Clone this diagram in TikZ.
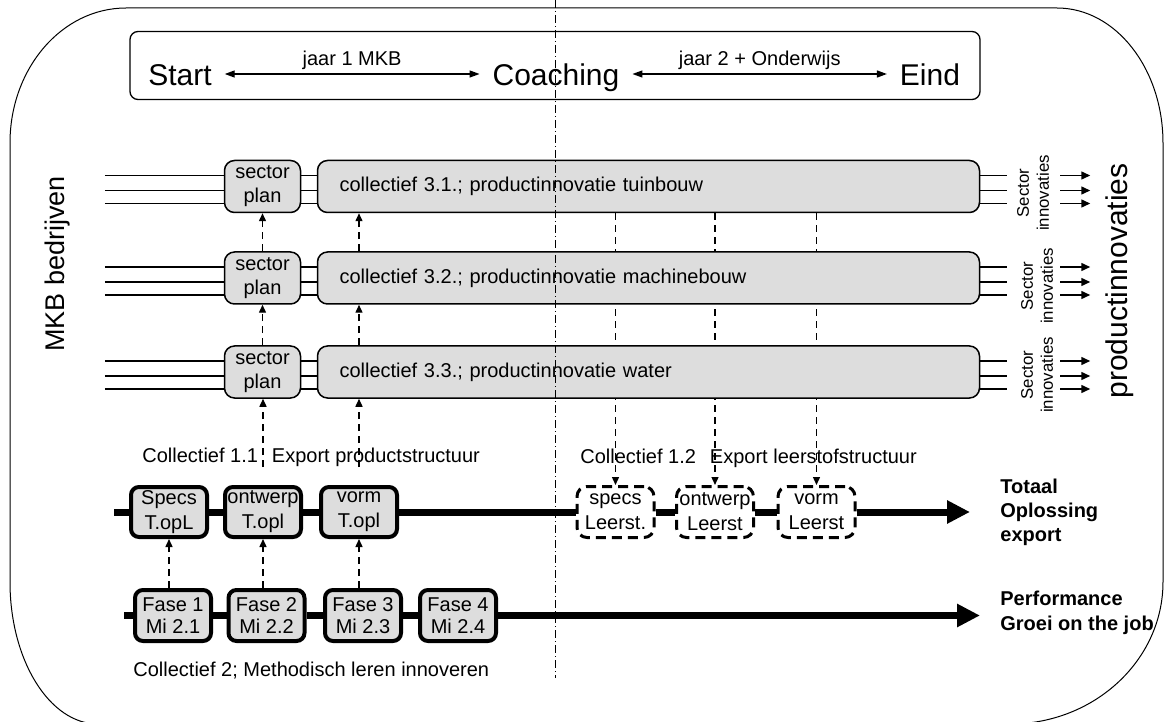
\documentclass[tikz,border=0pt]{standalone}
\usepackage{fontspec}
\setmainfont{Liberation Sans}
\usepackage{tikz}
\usetikzlibrary{arrows.meta,calc,backgrounds}

\definecolor{boxgray}{HTML}{DDDDDD}
\newcommand{\fsz}[2]{\fontsize{#1}{#2}\selectfont}

\begin{document}
\begin{tikzpicture}[x=0.5pt, y=-0.5pt,
		secbox/.style={draw, line width=0.75pt, rounded corners=5pt, fill=boxgray, minimum width=38pt, minimum height=26pt, inner sep=0pt, align=center, font=\fsz{10pt}{12pt}},
		colbox/.style={draw, line width=0.75pt, rounded corners=5pt, fill=boxgray, minimum height=26pt, text width=309pt, inner xsep=11pt, inner ysep=0pt, align=left, font=\fsz{10pt}{12pt}},
		tbox/.style={draw, line width=2pt, rounded corners=4pt, fill=boxgray, minimum width=38pt, minimum height=25pt, inner sep=0pt, align=center, font=\fsz{10pt}{12.5pt}},
		fbox/.style={tbox, minimum height=25.5pt, font=\fsz{10pt}{11pt}},
		lbox/.style={draw, line width=1.5pt, dash pattern=on 5pt off 3pt, rounded corners=5pt, fill=white, minimum width=38.5pt, minimum height=25.5pt, inner sep=0pt, align=center, font=\fsz{10pt}{12.5pt}},
		stub/.style={line width=0.75pt},
		stubarrow/.style={line width=0.75pt, -{Triangle[length=4.5pt, width=4pt]}},
		dasharrow/.style={line width=0.7pt, dash pattern=on 3.5pt off 2.5pt, -{Triangle[length=4pt, width=3.5pt]}},
		thickline/.style={line width=3.5pt},
		thickarrow/.style={line width=3.5pt, -{Triangle[length=11.5pt, width=11pt]}},
		period/.style={line width=0.65pt, {Triangle[length=5pt, width=3.5pt]}-{Triangle[length=5pt, width=3.5pt]}, shorten <=3pt, shorten >=3pt},
		bigtext/.style={font=\fsz{15pt}{18pt}, text height=12pt, text depth=0pt, anchor=base},
		plain/.style={font=\fsz{10pt}{12pt}, inner sep=0pt}]

	\useasboundingbox (0,0) rectangle (1164,722);

	\draw[line width=0.5pt] (126,8) -- (1057,8) .. controls (1115.5,8) and (1163,68.4) .. (1163,143)
		-- (1163,582) .. controls (1163,660) and (1094.5,724) .. (1010,724)
		-- (98,724) .. controls (49.4,724) and (10,660) .. (10,582)
		-- (10,143) .. controls (10,68.4) and (61.9,8) .. (126,8) -- cycle;

	\node[draw, line width=0.65pt, rounded corners=4pt, minimum width=425pt, minimum height=34pt] (period) at (555,65.5) {};
	\node[bigtext] (start) at (180,86) {Start};
	\node[bigtext] (coach) at (556,86) {Coaching};
	\node[bigtext] (eind) at (930,86) {Eind};
	\draw[period] (start) -- (coach) node[midway, anchor=base, yshift=4pt, font=\fsz{10pt}{12pt}] {jaar 1 MKB};
	\draw[period] (coach) -- (eind) node[midway, anchor=base, yshift=4pt, font=\fsz{10pt}{12pt}] {jaar 2 + Onderwijs};

	\foreach \r/\y/\t in {1/186.5/tuinbouw, 2/278/machinebouw, 3/372/water}{
		\node[secbox] (sp\r) at (262.5,\y) {sector\\plan};
		\node[colbox] (col\r) at (648.5,\y) {collectief 3.\r.; productinnovatie \t};
		\foreach \o in {-11,4,17}{
			\draw[stub] ($(sp\r.west)+(-119,\o)$) -- ($(sp\r.west)+(0,\o)$);
			\draw[stub] ($(sp\r.east)+(0,\o)$) -- ($(col\r.west)+(0,\o)$);
			\draw[stub] ($(col\r.east)+(0,\o)$) -- ++(27,0);
			\draw[stubarrow] ($(col\r.east)+(80,\o)$) -- ++(30,0);
		}
	}
	\foreach \r/\x/\y in {1/1033/193, 2/1037/286, 3/1037/375}
		\node[rotate=90, align=center, inner sep=0pt, font=\fsz{8.4pt}{10pt}] (si\r) at (\x,\y) {Sector\\innovaties};

	\node[rotate=90, font=\fsz{13.5pt}{16pt}] (mkb) at (58,264) {MKB bedrijven};
	\node[rotate=90, font=\fsz{15pt}{18pt}] (pi) at (1120,281) {productinnovaties};

	\node[tbox] (s1) at (169,512) {Specs\\T.opL};
	\node[tbox] (o1) at (263,512) {ontwerp\\T.opl};
	\node[tbox] (v1) at (359,512) {vorm\\T.opl};
	\node[lbox] (l1) at (615.5,512) {specs\\Leerst.};
	\node[lbox] (l2) at (715,512) {ontwerp\\Leerst};
	\node[lbox] (l3) at (816.5,512) {vorm\\Leerst};
	\node[fbox] (f1) at (173,615.5) {Fase 1\\Mi 2.1};
	\node[fbox] (f2) at (266.5,615.5) {Fase 2\\Mi 2.2};
	\node[fbox] (f3) at (363,615.5) {Fase 3\\Mi 2.3};
	\node[fbox] (f4) at (458,615.5) {Fase 4\\Mi 2.4};

	\node[plain, anchor=base west] (c11) at (142,462) {Collectief 1.1\hspace{0.7em}Export productstructuur};
	\node[plain, anchor=base west] (c12) at (580,463) {Collectief 1.2\hspace{0.7em}Export leerstofstructuur};
	\node[plain, anchor=base west] (c2) at (133,676) {Collectief 2; Methodisch leren innoveren};
	\node[plain, anchor=west, align=left, font=\bfseries\fsz{10pt}{12pt}] (tot) at (1000,512) {Totaal\\Oplossing\\export};
	\node[plain, anchor=west, align=left, font=\bfseries\fsz{10pt}{12.5pt}] (perf) at (1000,613) {Performance\\Groei on the job};

	\coordinate (tl0) at (114,512);
	\coordinate (bl0) at (124,615.5);
	\draw[thickline] (tl0) -- (s1.west) (s1.east) -- (o1.west) (o1.east) -- (v1.west)
		(v1.east) -- (l1.west) (l1.east) -- (l2.west) (l2.east) -- (l3.west);
	\draw[thickarrow, shorten >=15pt] (l3.east) -- (l3.east -| tot.west);
	\draw[thickline] (bl0) -- (f1.west) (f1.east) -- (f2.west) (f2.east) -- (f3.west) (f3.east) -- (f4.west);
	\draw[thickarrow, shorten >=10pt] (f4.east) -- (f4.east -| perf.west);

	\draw[dasharrow] (f1.north -| s1) -- (s1.south);
	\draw[dasharrow] (f2.north -| o1) -- (o1.south);
	\draw[dasharrow] (f3.north -| v1) -- (v1.south);
	\draw[dasharrow, shorten <=9pt] (o1.north) -- (o1.north |- sp3.south);
	\draw[dasharrow, shorten <=9pt] (v1.north) -- (v1.north |- col3.south);
	\draw[dasharrow] (sp3.north) -- (sp2.south);
	\draw[dasharrow] (sp2.north) -- (sp1.south);
	\draw[dasharrow] (col3.north -| v1) -- (col2.south -| v1);
	\draw[dasharrow] (col2.north -| v1) -- (col1.south -| v1);
	\begin{pgfonlayer}{background}
		\foreach \i in {1,2,3}
			\draw[dasharrow] (col1.south -| l\i) -- (l\i.north);
	\end{pgfonlayer}

	\draw[line width=0.4pt, dash pattern=on 4pt off 1.5pt on 0.5pt off 1.5pt] (555,0) -- (555,678);

\end{tikzpicture}
\end{document}
